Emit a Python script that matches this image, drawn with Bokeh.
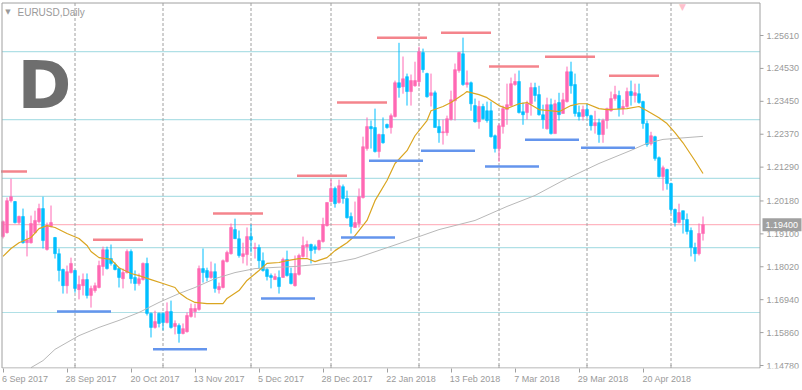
from bokeh.plotting import figure
from bokeh.models import Range1d, FixedTicker, Label, ColumnDataSource
from bokeh.core.properties import value
from bokeh.embed import file_html
from bokeh.resources import INLINE

# ---------------- data ----------------
x_tick_bars = [0, 16, 32, 48, 64, 80, 96, 112, 128, 144, 160]
x_tick_labels = ["6 Sep 2017", "28 Sep 2017", "20 Oct 2017", "13 Nov 2017", "5 Dec 2017",
                 "28 Dec 2017", "22 Jan 2018", "13 Feb 2018", "7 Mar 2018", "29 Mar 2018",
                 "20 Apr 2018"]
month_starts = [18, 40, 62, 82, 104, 124, 146, 167]

y_tick_values = [1.14780, 1.15860, 1.16940, 1.18020, 1.19100, 1.20180,
                 1.21290, 1.22370, 1.23450, 1.24530, 1.25610]
y_tick_labels = ["1.14780", "1.15860", "1.16940", "1.18020", "1.19100", "1.20180",
                 "1.21290", "1.22370", "1.23450", "1.24530", "1.25610"]

opens = [1.1901, 1.1914, 1.2019, 1.2016, 1.1947, 1.1967, 1.1881, 1.1881, 1.1914, 1.1950,
         1.1993, 1.1859, 1.1934, 1.1898, 1.1845, 1.1793, 1.1740, 1.1783, 1.1790, 1.1727,
         1.1740, 1.1760, 1.1708, 1.1724, 1.1734, 1.1803, 1.1858, 1.1829, 1.1809, 1.1796,
         1.1763, 1.1783, 1.1852, 1.1767, 1.1747, 1.1760, 1.1813, 1.1649, 1.1603, 1.1649,
         1.1649, 1.1619, 1.1655, 1.1606, 1.1609, 1.1583, 1.1589, 1.1639, 1.1655, 1.1662,
         1.1796, 1.1790, 1.1767, 1.1786, 1.1727, 1.1734, 1.1819, 1.1845, 1.1924, 1.1894,
         1.1836, 1.1842, 1.1901, 1.1862, 1.1865, 1.1822, 1.1793, 1.1773, 1.1760, 1.1767,
         1.1767, 1.1826, 1.1780, 1.1740, 1.1777, 1.1836, 1.1868, 1.1875, 1.1868, 1.1859,
         1.1885, 1.1937, 1.2016, 1.2059, 1.2013, 1.2065, 1.2026, 1.1967, 1.1931, 1.1944,
         1.2029, 1.2190, 1.2262, 1.2259, 1.2180, 1.2236, 1.2269, 1.2259, 1.2295, 1.2406,
         1.2393, 1.2426, 1.2377, 1.2396, 1.2409, 1.2505, 1.2436, 1.2364, 1.2373, 1.2262,
         1.2242, 1.2242, 1.2285, 1.2347, 1.2446, 1.2501, 1.2400, 1.2406, 1.2331, 1.2278,
         1.2328, 1.2314, 1.2314, 1.2232, 1.2190, 1.2262, 1.2318, 1.2331, 1.2400, 1.2410,
         1.2311, 1.2308, 1.2337, 1.2390, 1.2367, 1.2301, 1.2255, 1.2334, 1.2239, 1.2341,
         1.2305, 1.2344, 1.2442, 1.2400, 1.2308, 1.2295, 1.2318, 1.2298, 1.2265, 1.2275,
         1.2236, 1.2282, 1.2314, 1.2354, 1.2364, 1.2321, 1.2328, 1.2377, 1.2364, 1.2370,
         1.2344, 1.2272, 1.2206, 1.2229, 1.2160, 1.2098, 1.2121, 1.2075, 1.1990, 1.1947,
         1.1986, 1.1957, 1.1921, 1.1865, 1.1845, 1.1911]
highs = [1.1954, 1.2029, 1.2091, 1.2018, 1.1970, 1.1993, 1.1921, 1.1970, 1.1986, 1.2009,
         1.2032, 1.1947, 1.2003, 1.1900, 1.1862, 1.1796, 1.1806, 1.1832, 1.1792, 1.1773,
         1.1780, 1.1780, 1.1740, 1.1750, 1.1822, 1.1868, 1.1868, 1.1875, 1.1816, 1.1799,
         1.1796, 1.1859, 1.1859, 1.1790, 1.1780, 1.1816, 1.1832, 1.1652, 1.1658, 1.1652,
         1.1652, 1.1685, 1.1691, 1.1626, 1.1616, 1.1616, 1.1652, 1.1681, 1.1681, 1.1806,
         1.1862, 1.1799, 1.1819, 1.1813, 1.1750, 1.1826, 1.1855, 1.1944, 1.1960, 1.1921,
         1.1881, 1.1931, 1.1941, 1.1881, 1.1875, 1.1849, 1.1799, 1.1780, 1.1780, 1.1790,
         1.1832, 1.1855, 1.1799, 1.1839, 1.1845, 1.1901, 1.1888, 1.1878, 1.1875, 1.1891,
         1.1963, 1.2013, 1.2088, 1.2065, 1.2088, 1.2072, 1.2052, 1.1980, 1.2016, 1.2059,
         1.2229, 1.2292, 1.2282, 1.2321, 1.2239, 1.2292, 1.2272, 1.2305, 1.2413, 1.2537,
         1.2492, 1.2436, 1.2433, 1.2475, 1.2524, 1.2518, 1.2439, 1.2436, 1.2380, 1.2285,
         1.2285, 1.2298, 1.2380, 1.2469, 1.2508, 1.2554, 1.2446, 1.2410, 1.2354, 1.2347,
         1.2337, 1.2344, 1.2344, 1.2236, 1.2272, 1.2331, 1.2403, 1.2423, 1.2436, 1.2446,
         1.2341, 1.2347, 1.2406, 1.2406, 1.2396, 1.2334, 1.2357, 1.2354, 1.2350, 1.2373,
         1.2373, 1.2459, 1.2475, 1.2436, 1.2331, 1.2331, 1.2337, 1.2301, 1.2314, 1.2288,
         1.2288, 1.2324, 1.2377, 1.2396, 1.2380, 1.2350, 1.2390, 1.2413, 1.2403, 1.2403,
         1.2347, 1.2282, 1.2245, 1.2232, 1.2164, 1.2134, 1.2124, 1.2078, 1.1993, 1.2009,
         1.1986, 1.1977, 1.1931, 1.1881, 1.1944, 1.1967]
lows = [1.1895, 1.1911, 1.2013, 1.1944, 1.1941, 1.1878, 1.1836, 1.1878, 1.1911, 1.1944,
        1.1862, 1.1855, 1.1931, 1.1829, 1.1754, 1.1714, 1.1714, 1.1780, 1.1717, 1.1695,
        1.1708, 1.1698, 1.1668, 1.1717, 1.1731, 1.1773, 1.1793, 1.1806, 1.1790, 1.1734,
        1.1731, 1.1780, 1.1747, 1.1724, 1.1740, 1.1757, 1.1642, 1.1570, 1.1599, 1.1603,
        1.1593, 1.1616, 1.1599, 1.1580, 1.1553, 1.1580, 1.1586, 1.1635, 1.1635, 1.1658,
        1.1750, 1.1754, 1.1763, 1.1717, 1.1714, 1.1731, 1.1816, 1.1842, 1.1894, 1.1832,
        1.1813, 1.1806, 1.1849, 1.1829, 1.1796, 1.1786, 1.1757, 1.1731, 1.1760, 1.1714,
        1.1767, 1.1770, 1.1744, 1.1737, 1.1773, 1.1832, 1.1832, 1.1813, 1.1845, 1.1855,
        1.1881, 1.1934, 1.2013, 1.1996, 1.2009, 1.2009, 1.1960, 1.1911, 1.1931, 1.1931,
        1.2026, 1.2183, 1.2190, 1.2177, 1.2160, 1.2206, 1.2255, 1.2239, 1.2292, 1.2357,
        1.2370, 1.2331, 1.2331, 1.2393, 1.2393, 1.2439, 1.2357, 1.2328, 1.2259, 1.2209,
        1.2203, 1.2232, 1.2282, 1.2282, 1.2439, 1.2396, 1.2390, 1.2314, 1.2275, 1.2255,
        1.2285, 1.2275, 1.2226, 1.2177, 1.2147, 1.2239, 1.2268, 1.2328, 1.2396, 1.2305,
        1.2268, 1.2285, 1.2298, 1.2344, 1.2298, 1.2255, 1.2252, 1.2236, 1.2239, 1.2282,
        1.2305, 1.2341, 1.2370, 1.2295, 1.2282, 1.2282, 1.2291, 1.2249, 1.2239, 1.2209,
        1.2209, 1.2255, 1.2311, 1.2347, 1.2295, 1.2301, 1.2324, 1.2331, 1.2341, 1.2337,
        1.2255, 1.2196, 1.2200, 1.2150, 1.2095, 1.2052, 1.2055, 1.1977, 1.1934, 1.1944,
        1.1911, 1.1908, 1.1836, 1.1819, 1.1839, 1.1888]
closes = [1.1950, 1.2019, 1.2032, 1.1947, 1.1967, 1.1881, 1.1891, 1.1944, 1.1954, 1.1993,
          1.1888, 1.1937, 1.1947, 1.1845, 1.1790, 1.1740, 1.1786, 1.1813, 1.1731, 1.1744,
          1.1760, 1.1708, 1.1731, 1.1740, 1.1806, 1.1858, 1.1796, 1.1813, 1.1793, 1.1767,
          1.1783, 1.1852, 1.1763, 1.1747, 1.1763, 1.1813, 1.1649, 1.1603, 1.1622, 1.1616,
          1.1619, 1.1655, 1.1603, 1.1616, 1.1583, 1.1599, 1.1642, 1.1665, 1.1665, 1.1796,
          1.1783, 1.1767, 1.1786, 1.1731, 1.1737, 1.1822, 1.1849, 1.1931, 1.1894, 1.1839,
          1.1845, 1.1901, 1.1891, 1.1865, 1.1822, 1.1790, 1.1770, 1.1767, 1.1770, 1.1737,
          1.1826, 1.1773, 1.1747, 1.1780, 1.1839, 1.1872, 1.1875, 1.1855, 1.1859, 1.1888,
          1.1941, 1.2013, 1.2059, 1.2009, 1.2068, 1.2026, 1.1963, 1.1934, 1.1947, 1.2032,
          1.2196, 1.2262, 1.2255, 1.2180, 1.2236, 1.2209, 1.2259, 1.2298, 1.2406, 1.2390,
          1.2419, 1.2377, 1.2413, 1.2413, 1.2508, 1.2449, 1.2360, 1.2373, 1.2259, 1.2242,
          1.2245, 1.2288, 1.2350, 1.2449, 1.2505, 1.2400, 1.2406, 1.2337, 1.2278, 1.2328,
          1.2288, 1.2282, 1.2229, 1.2190, 1.2265, 1.2321, 1.2334, 1.2403, 1.2410, 1.2308,
          1.2301, 1.2337, 1.2390, 1.2364, 1.2301, 1.2285, 1.2334, 1.2239, 1.2337, 1.2301,
          1.2350, 1.2442, 1.2396, 1.2305, 1.2295, 1.2318, 1.2298, 1.2265, 1.2275, 1.2236,
          1.2282, 1.2321, 1.2354, 1.2367, 1.2321, 1.2328, 1.2377, 1.2364, 1.2373, 1.2341,
          1.2272, 1.2203, 1.2232, 1.2157, 1.2098, 1.2127, 1.2075, 1.1990, 1.1947, 1.1980,
          1.1957, 1.1918, 1.1865, 1.1845, 1.1911, 1.1940]

ma_fast_bar = [0, 2, 4, 7, 9, 11, 13, 16, 19, 21, 22, 24, 27, 29, 32, 34, 37, 40, 43, 44,
               46, 48, 51, 55, 56, 59, 61, 64, 66, 69, 71, 74, 76, 78, 81, 83, 86, 88, 91,
               93, 96, 98, 101, 103, 106, 107, 110, 112, 115, 116, 119, 121, 124, 126, 129,
               131, 134, 139, 142, 144, 146, 149, 151, 156, 159, 161, 164, 166, 168, 170,
               173, 175]
ma_fast = [1.1836, 1.1862, 1.1881, 1.1898, 1.1927, 1.1937, 1.1931, 1.1911, 1.1895, 1.1872,
           1.1852, 1.1832, 1.1826, 1.1799, 1.1780, 1.1773, 1.1760, 1.1747, 1.1734, 1.1717,
           1.1698, 1.1685, 1.1681, 1.1681, 1.1698, 1.1724, 1.1757, 1.1790, 1.1813, 1.1816,
           1.1822, 1.1829, 1.1829, 1.1819, 1.1832, 1.1855, 1.1881, 1.1904, 1.1954, 1.2019,
           1.2085, 1.2141, 1.2183, 1.2232, 1.2282, 1.2314, 1.2328, 1.2341, 1.2367, 1.2377,
           1.2367, 1.2357, 1.2331, 1.2321, 1.2337, 1.2341, 1.2318, 1.2311, 1.2331, 1.2337,
           1.2337, 1.2321, 1.2318, 1.2321, 1.2328, 1.2314, 1.2291, 1.2272, 1.2242, 1.2209,
           1.2150, 1.2108]

ma_slow_bar = [7, 10, 13, 19, 24, 29, 34, 39, 44, 48, 53, 58, 63, 68, 73, 78, 83, 88, 99,
               109, 118, 126, 133, 140, 149, 157, 161, 165, 171, 175]
ma_slow = [1.1471, 1.1494, 1.1531, 1.1576, 1.1603, 1.1626, 1.1652, 1.1685, 1.1714, 1.1734,
           1.1763, 1.1783, 1.1796, 1.1800, 1.1803, 1.1809, 1.1816, 1.1829, 1.1878, 1.1924,
           1.1954, 1.2000, 1.2036, 1.2085, 1.2141, 1.2184, 1.2207, 1.2220, 1.2226, 1.2230]

res_start = [-0.5, 22.5, 52.5, 73.5, 83.5, 93.5, 109.5, 121.5, 135.5, 151.5]
res_end = [6.0, 35.0, 65.0, 86.0, 96.0, 106.0, 122.0, 134.0, 148.0, 164.0]
res_level = [1.2115, 1.1891, 1.1977, 1.2101, 1.2341, 1.2554, 1.2570, 1.2459, 1.2491, 1.2429]

sup_start = [13.5, 37.5, 64.5, 84.5, 91.5, 104.5, 120.5, 130.5, 144.5]
sup_end = [27.0, 51.0, 78.0, 98.0, 105.0, 118.0, 134.0, 144.0, 158.0]
sup_level = [1.1655, 1.1531, 1.1698, 1.1898, 1.2150, 1.2183, 1.2131, 1.2219, 1.2193]

hline_levels = [1.2508, 1.2285, 1.2092, 1.2033, 1.1865, 1.1652]

symbol_text = "EURUSD,Daily"
period_letter = "D"

# ---------------- layout helpers (pixel geometry of the MT4 window) ----------------
W, H = 802, 390
FRAME_H = 368                      # plotting area covers x 0..802, y 0..368
PX_BAR, PX_X0 = 4.0, 2.5           # bar spacing and first bar pixel
Y_REF_PX, Y_REF_PRICE = 35.0, 1.25610
PX_PRICE = (1.25610 - 1.14780) / 330.0


def px2x(px):
    return (px - PX_X0) / PX_BAR


def px2y(py):
    return Y_REF_PRICE + (Y_REF_PX - py) * PX_PRICE


L_PX, T_PX, R_PX, B_PX = 1.5, 2.5, 759.5, 367.5   # chart border lines

PINK = "#ff69b4"
BLUE = "#00bfff"
AXIS = "#a0a0a0"
TXT = "#9a9a9a"

p = figure(width=W, height=H, output_backend="svg", toolbar_location=None,
           x_range=Range1d(px2x(0), px2x(W)), y_range=Range1d(px2y(FRAME_H), px2y(0)),
           y_axis_location=None, min_border_left=0, min_border_top=0,
           min_border_right=0, min_border_bottom=H - FRAME_H,
           background_fill_color="white", border_fill_color="white")
p.outline_line_color = None
p.grid.visible = False

# bottom axis: tick marks at label starts, labels left-aligned after them
centers = [t + round(((len(l) * 4.6) / 2 - 1.5) / PX_BAR * 4) / 4
           for t, l in zip(x_tick_bars, x_tick_labels)]
xa = p.xaxis[0]
xa.ticker = FixedTicker(ticks=centers, minor_ticks=x_tick_bars)
xa.major_label_overrides = {c: l for c, l in zip(centers, x_tick_labels)}
xa.axis_line_color = None
xa.major_tick_line_color = None
xa.major_tick_out = 4
xa.major_tick_in = 0
xa.minor_tick_out = 4
xa.minor_tick_in = 0
xa.minor_tick_line_color = AXIS
xa.major_label_standoff = 1
xa.major_label_text_font = "Liberation Sans"
xa.major_label_text_font_size = "9px"
xa.major_label_text_color = TXT

x_left, x_right = px2x(L_PX), px2x(R_PX)
y_top, y_bottom = px2y(T_PX), px2y(B_PX)

# horizontal levels, current price line, month separators
p.segment(x0=[x_left] * len(hline_levels), y0=hline_levels,
          x1=[x_right] * len(hline_levels), y1=hline_levels,
          line_color="#b0e0e6", line_width=1.2)
p.segment(x0=[x_left], y0=[closes[-1]], x1=[x_right], y1=[closes[-1]],
          line_color="#ffb6c1", line_width=1.2)
p.segment(x0=month_starts, y0=[y_top] * len(month_starts),
          x1=month_starts, y1=[y_bottom] * len(month_starts),
          line_color=AXIS, line_width=1, line_dash="3 2")
p.segment(x0=month_starts, y0=[px2y(B_PX - 3)] * len(month_starts),
          x1=month_starts, y1=[y_bottom] * len(month_starts),
          line_color=AXIS, line_width=1)

# candles
n = len(opens)
src = ColumnDataSource(dict(
    x=list(range(n)), h=highs, l=lows,
    top=[max(o, c) for o, c in zip(opens, closes)],
    bottom=[min(o, c) for o, c in zip(opens, closes)],
    color=[PINK if c >= o else BLUE for o, c in zip(opens, closes)]))
p.segment(x0="x", y0="h", x1="x", y1="l", line_color="color", line_width=1, source=src)
p.vbar(x="x", width=0.7, top="top", bottom="bottom", fill_color="color",
       line_color="color", line_width=0.6, source=src)

# moving averages
p.line(ma_slow_bar, ma_slow, line_color="#b8b8b8", line_width=1)
p.line(ma_fast_bar, ma_fast, line_color="#daa520", line_width=1.2)

# resistance / support segments
p.segment(x0=res_start, y0=res_level, x1=res_end, y1=res_level,
          line_color="#f4848c", line_width=2.5)
p.segment(x0=sup_start, y0=sup_level, x1=sup_end, y1=sup_level,
          line_color="#6495ed", line_width=2.5)

# chart border and price axis (MT4 style)
p.segment(x0=[x_left, x_left, x_right, x_left], y0=[y_top, y_top, y_top, y_bottom],
          x1=[x_right, x_left, x_right, x_right], y1=[y_top, y_bottom, y_bottom, y_bottom],
          line_color=AXIS, line_width=1)
nt = len(y_tick_values)
p.segment(x0=[x_right] * nt, y0=y_tick_values, x1=[px2x(R_PX + 3.5)] * nt, y1=y_tick_values,
          line_color=AXIS, line_width=1)
p.text(x=[px2x(766)] * nt, y=y_tick_values, text=y_tick_labels,
       text_font=value("Liberation Sans"), text_font_size=value("9px"),
       text_color=TXT, text_baseline="middle", text_align="left")

# current price tag
half_h = 6.5 * PX_PRICE
p.quad(left=[px2x(762)], right=[px2x(801)], top=[closes[-1] + half_h],
       bottom=[closes[-1] - half_h], fill_color="#a0a0a0", line_color=None)
p.text(x=[px2x(765)], y=[closes[-1]], text=["%.5f" % closes[-1]],
       text_font=value("Liberation Sans"), text_font_size=value("9px"),
       text_color="white", text_baseline="middle", text_align="left")

# header texts
p.add_layout(Label(x=7.5, y=FRAME_H - 11, x_units="screen", y_units="screen", text="▼",
                   text_font="DejaVu Sans", text_font_size="7px", text_color=TXT,
                   text_align="center", text_baseline="middle"))
p.add_layout(Label(x=17, y=FRAME_H - 6, x_units="screen", y_units="screen", text=symbol_text,
                   text_font="Liberation Sans", text_font_size="10px", text_color=TXT,
                   text_baseline="top"))
p.add_layout(Label(x=17, y=FRAME_H - 85, x_units="screen", y_units="screen",
                   text=period_letter, text_font="DejaVu Sans", text_font_style="bold",
                   text_font_size="65px", text_color="#6e6e6e", text_baseline="alphabetic"))
p.add_layout(Label(x=682, y=FRAME_H - 1, x_units="screen", y_units="screen", text="▼",
                   text_font="DejaVu Sans", text_font_size="9px", text_color="#ffc0cb",
                   text_align="center", text_baseline="top"))

open("out.html", "w").write(file_html(p, INLINE))
